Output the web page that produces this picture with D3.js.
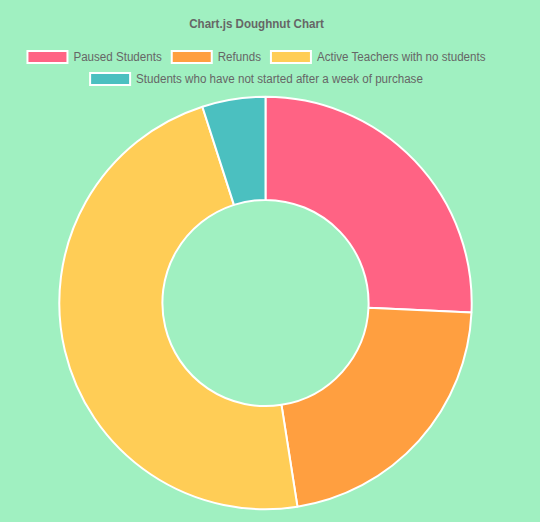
<!DOCTYPE html>
<html>
<head>
<meta charset="utf-8">
<script src="https://cdn.jsdelivr.net/npm/d3@7"></script>
<style>
html,body{margin:0;padding:0;background:rgb(160,240,193);}
svg{display:block;}
text{font-family:"Liberation Sans",Arial,Helvetica,sans-serif;}
</style>
</head>
<body>
<svg id="chart" width="540" height="522"></svg>
<script>
const categories = ["Paused Students","Refunds","Active Teachers with no students","Students who have not started after a week of purchase"];
const values = [26, 22, 48, 5];
const colors = ["rgb(255,99,132)","rgb(255,159,64)","rgb(255,205,86)","rgb(75,192,192)"];
const titleText = "Chart.js Doughnut Chart";

const svg = d3.select("#chart");
const W = 540, H = 522;
svg.append("rect").attr("width",W).attr("height",H).attr("fill","rgb(160,240,193)");

const layoutCx = 256.5;
const fs = 12, squeeze = 0.966;
function squeezeText(t){
  const w = t.node().getComputedTextLength() * squeeze;
  t.attr("textLength", w).attr("lengthAdjust","spacingAndGlyphs");
  return w;
}
const title = svg.append("text").attr("x",layoutCx).attr("y",28.3)
  .attr("text-anchor","middle").attr("font-size",fs).attr("font-weight","bold")
  .attr("fill","#666").text(titleText);
squeezeText(title);

// legend rows
const rows = [[0,1,2],[3]];
const rowY = [57, 79];
const boxW = 40, boxH = 12, gap = 6, pad = 10;
const lg = svg.append("g");
rows.forEach((row, ri) => {
  const items = row.map(i => {
    const t = lg.append("text").attr("font-size",fs).attr("fill","#666").text(categories[i]);
    return {i, t, w: squeezeText(t)};
  });
  const total = d3.sum(items, d => boxW + gap + d.w) + pad*(items.length-1);
  let x = layoutCx - total/2;
  items.forEach(d => {
    lg.append("rect").attr("x",x).attr("y",rowY[ri]-boxH/2).attr("width",boxW).attr("height",boxH)
      .attr("fill",colors[d.i]).attr("stroke","#fff").attr("stroke-width",2);
    d.t.attr("x", x + boxW + gap).attr("y", rowY[ri] + 4.3);
    x += boxW + gap + d.w + pad;
  });
});

// doughnut
const cx = 265.5, cy = 303, outerR = 206.2, innerR = outerR*0.5;
const pie = d3.pie().sort(null).value(d => d)(values);
const arc = d3.arc().innerRadius(innerR).outerRadius(outerR);
const g = svg.append("g").attr("transform",`translate(${cx},${cy})`);
g.selectAll("path").data(pie).join("path")
  .attr("d", arc)
  .attr("fill", (d,i) => colors[i])
  .attr("stroke","#fff").attr("stroke-width",2).attr("stroke-linejoin","bevel");
</script>
</body>
</html>
